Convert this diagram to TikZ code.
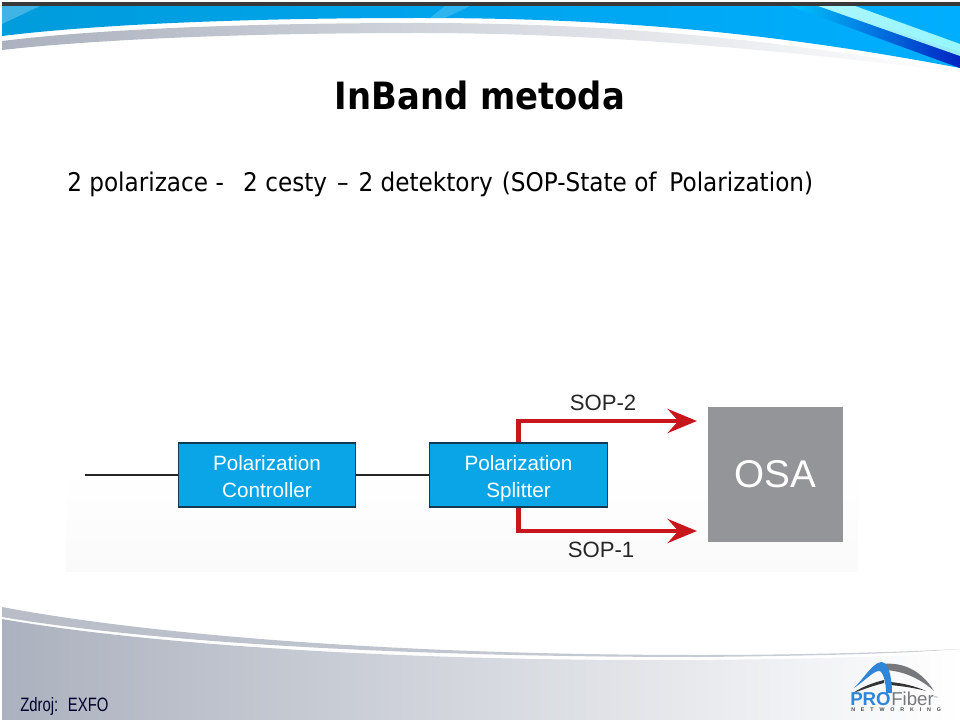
\documentclass[tikz,border=0pt]{standalone}
\usepackage{fontspec}
\setmainfont{Liberation Sans}
\newfontfamily\tahomalike[FakeStretch=0.9]{DejaVu Sans}
\newfontfamily\narrowsans[FakeStretch=0.77]{Liberation Sans}
\newfontfamily\logosmall[LetterSpace=110]{Liberation Sans}
\usetikzlibrary{arrows.meta,shapes.geometric}
\definecolor{boxblue}{HTML}{0AA5E6}
\definecolor{boxedge}{HTML}{123A50}
\definecolor{sopred}{HTML}{C8161D}
\definecolor{osagrey}{HTML}{939598}
\definecolor{bandblue}{HTML}{009CDC}
\definecolor{bandlight}{HTML}{00CCFF}
\definecolor{bandright}{HTML}{00AEFF}
\definecolor{bandgrey}{HTML}{ABB1BE}
\definecolor{bandmid}{HTML}{C6CAD3}
\definecolor{logoblue}{HTML}{2F86D8}
\definecolor{logogrey}{HTML}{77787B}
\tikzset{
  blockbox/.style={draw=boxedge,line width=0.8pt,fill=boxblue,text=white,minimum width=133pt,minimum height=48pt,inner sep=0pt,align=center,font=\fontsize{15.5}{20.2}\selectfont},
  osabox/.style={fill=osagrey,text=white,minimum width=101.5pt,minimum height=101.5pt,inner sep=0pt,font=\fontsize{29}{32}\selectfont},
  fibre/.style={line width=1.1pt,black!85},
  soparrow/.style={draw=sopred,line width=3.6pt,-{Stealth[length=22pt,width=18pt,inset=8pt,fill=sopred]}},
  soplabel/.style={text=black!85,inner sep=0pt,font=\fontsize{16.6}{19}\selectfont},
}
\begin{document}
\begin{tikzpicture}[x=0.75pt,y=-0.75pt]
\useasboundingbox (0,0) rectangle (960,720);
\fill[white] (0,0) rectangle (960,720);
% top decoration
\shade[left color=bandblue,middle color=bandlight,right color=bandright]
  (2,6) -- (960,6) -- (960,68) .. controls (760,30) and (600,18) .. (420,18) .. controls (250,18) and (100,24) .. (2,36) -- cycle;
\begin{scope}
\clip (2,6) -- (960,6) -- (960,68) .. controls (760,30) and (600,18) .. (420,18) .. controls (250,18) and (100,24) .. (2,36) -- cycle;
\fill[white,opacity=.25] (2,6) -- (40,6) -- (2,24) -- cycle;
\fill[white,opacity=.18] (445,18) -- (470,6) -- (445,6) -- (430,18) -- cycle;
\shade[left color=bandlight,right color=blue!70!black,opacity=.8] (790,6) -- (820,6) -- (960,52) -- (960,68) -- cycle;
\shade[left color=cyan!25,right color=cyan!35,opacity=.9] (818,6) -- (855,6) -- (960,44) -- (960,56) -- cycle;
\end{scope}
\fill[black!78] (2,2) rectangle (960,6);
\shade[left color=bandgrey,middle color=bandmid,right color=white]
  (2,41) .. controls (100,29) and (250,23) .. (420,23) .. controls (620,23) and (780,40) .. (960,72)
  .. controls (780,50) and (600,33) .. (420,33) .. controls (250,33) and (100,39) .. (2,50) -- cycle;
% bottom decoration
\shade[left color=bandgrey!85,right color=bandgrey!60]
  (2,607) .. controls (150,635) and (400,655) .. (700,655) .. controls (800,655) and (900,652) .. (960,649)
  .. controls (900,654) and (800,656) .. (700,657) .. controls (400,657) and (150,642) .. (2,617) -- cycle;
\shade[left color=bandgrey,middle color=bandmid,right color=white]
  (2,619) .. controls (150,645) and (400,660) .. (650,660) .. controls (780,660) and (880,657) .. (960,653) -- (960,720) -- (2,720) -- cycle;
% pale backdrop of the figure
\shade[top color=white,bottom color=black!2] (66,470) rectangle (858,571);
% diagram
\coordinate (start) at (85,475);
\node[blockbox] (ctrl) at (267,475) {\rule{0pt}{19pt}Polarization\\\strut Controller};
\node[blockbox] (split) at (518.5,475) {\rule{0pt}{19pt}Polarization\\\strut Splitter};
\node[osabox] (osa) at (775.5,474.5) {\raisebox{1.5pt}{OSA}};
\coordinate (t2) at (697,421);
\coordinate (t1) at (697,531);
\draw[fibre] (start) -- (ctrl);
\draw[fibre] (ctrl) -- (split);
\draw[soparrow] (split.north) |- (t2);
\draw[soparrow] (split.south) |- (t1);
\node[soplabel] (s2) at (603,403) {SOP-2};
\node[soplabel] (s1) at (601,550) {SOP-1};
% text
\node[inner sep=0pt,font=\tahomalike\bfseries\fontsize{28.2}{32}\selectfont] (title) at (480,95) {InBand metoda};
\node[inner sep=0pt,anchor=base west,font=\tahomalike\fontsize{19.3}{22}\selectfont] (sub) at (67,192) {2 polarizace -\hspace{0.75em}2 cesty\hspace{0.1em} – \hspace{0.1em}2 detektory\hspace{0.35em}(SOP-State of\hspace{0.5em}Polarization)};
\node[inner sep=0pt,anchor=base west,text=black!70!blue!60!black,font=\narrowsans\fontsize{14.5}{16}\selectfont] (src) at (20,711) {Zdroj:\hspace{0.5em}EXFO};
% logo
\fill[logogrey] (882,664) .. controls (900,662) and (920,668) .. (934,691)
  .. controls (922,680) and (905,671) .. (885,670) -- cycle;
\fill[black!80] (853,693) .. controls (862,687) and (872,683) .. (884,680) -- (884,683) .. controls (872,686) and (862,690) .. (853,693) -- cycle;
\fill[black!80] (890,682) .. controls (902,683) and (915,686) .. (926,691) .. controls (915,688) and (902,686) .. (890,685) -- cycle;
\fill[logoblue] (854,688) .. controls (864,678) and (870,667) .. (878,663) .. controls (883,660) and (887,664) .. (889,670)
  .. controls (891,677) and (892,685) .. (892,693) -- (886,693) .. controls (886,684) and (884,674) .. (880,671) .. controls (874,670) and (866,680) .. (854,688) -- cycle;
\node[inner sep=0pt,anchor=base west,text=logoblue,font=\bfseries\fontsize{14}{15}\selectfont] (pro) at (850,705) {PRO};
\node[inner sep=0pt,anchor=base west,text=logogrey,font=\fontsize{14}{15}\selectfont] (fib) at (pro.base east) {Fiber\raisebox{4pt}{\fontsize{3}{3}\selectfont ™}};
\node[inner sep=0pt,anchor=base west,text=black!70,font=\logosmall\bfseries\fontsize{4}{5}\selectfont] (net) at (851,711) {NETWORKING};
\end{tikzpicture}
\end{document}
